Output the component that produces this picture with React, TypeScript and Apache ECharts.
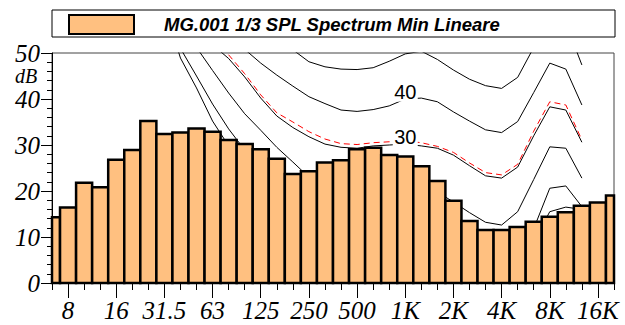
import React, { useEffect, useRef } from 'react';
import * as echarts from 'echarts';

// 1/3 octave bands shown on the x axis (6.3 Hz .. 20 kHz)
const CATEGORIES = ['6.3', '8', '10', '12.5', '16', '20', '25', '31.5', '40', '50', '63', '80', '100', '125', '160', '200', '250', '315', '400', '500', '630', '800', '1K', '1.25K', '1.6K', '2K', '2.5K', '3.15K', '4K', '5K', '6.3K', '8K', '10K', '12.5K', '16K', '20K'];

// Measured spectrum (dB)
const SPECTRUM_NAME = 'MG.001 1/3 SPL Spectrum Min Lineare';
const SPECTRUM_MIN = [14.3, 16.4, 21.8, 20.8, 26.8, 28.9, 35.2, 32.4, 32.7, 33.6, 32.9, 31.1, 30.2, 29.1, 27.0, 23.7, 24.3, 26.2, 26.7, 29.1, 29.4, 27.8, 27.5, 25.4, 22.2, 17.9, 13.5, 11.5, 11.5, 12.2, 13.3, 14.4, 15.4, 16.8, 17.5, 19.0];

// Contours are defined on the bands 20 Hz .. 12.5 kHz
const CONTOUR_BANDS = ['20', '25', '31.5', '40', '50', '63', '80', '100', '125', '160', '200', '250', '315', '400', '500', '630', '800', '1K', '1.25K', '1.6K', '2K', '2.5K', '3.15K', '4K', '5K', '6.3K', '8K', '10K', '12.5K'];
const CONTOUR_0 = [80, 72, 60, 48.9, 42.4, 35.2, 29.8, 25.0, 21.0, 17.5, 14.5, 12.0, 9.8, 8.0, 6.5, 5.5, 5.0, 5.0, 5.2, 4.5, 2.5, 1.0, 0.5, 0.5, 3.0, 9.0, 15.5, 16.5, 16.0];
const CONTOUR_10 = [85, 76, 64, 51, 45, 38.9, 33.5, 28.9, 25.5, 22.5, 19.5, 17, 15, 13.5, 12, 11, 10.2, 10, 10.5, 10, 8.5, 6.5, 4.5, 4, 6.5, 11.8, 20.6, 21.1, 16.6];
const CONTOUR_20 = [90, 80, 70, 58, 51.2, 46.2, 41.3, 36.8, 33.2, 29.5, 26.3, 23, 22, 21, 20.5, 20.2, 20, 20, 20, 19.8, 17.6, 15.3, 13.2, 12.6, 15.5, 22.5, 29.6, 29.3, 22.8];
const CONTOUR_30 = [95, 85, 75, 66, 59, 51.8, 48.8, 44.8, 40.2, 36.3, 33.8, 31.8, 30.2, 29.5, 29.3, 29.8, 30.0, 30.2, 29.8, 29.3, 27.8, 25.5, 23.3, 22.8, 25.2, 32.0, 38.3, 37.6, 30.6];
const CONTOUR_REF = [97, 87, 77, 68, 61, 53.2, 49.6, 45.5, 40.9, 37.0, 35.0, 32.9, 31.3, 30.3, 30.1, 30.5, 30.7, 30.9, 30.5, 29.7, 28.4, 26.1, 24.0, 23.5, 25.8, 33.0, 39.4, 38.7, 31.1];
const CONTOUR_40 = [100, 92, 84, 76, 68, 61, 55, 50.8, 47.8, 45.2, 42.8, 40.5, 39.0, 37.6, 37.3, 37.7, 38.5, 40.0, 40.2, 39.4, 37.2, 35.2, 33.3, 32.7, 35.1, 41.4, 47.8, 46.5, 38.7];
const CONTOUR_50 = [110, 102, 94, 86, 78, 71, 65, 60.5, 56.5, 53.3, 50.7, 48.1, 47.0, 46.5, 46.4, 46.8, 48.2, 49.8, 50.4, 48.6, 46.3, 44.3, 42.9, 42.3, 44.7, 51.2, 57.5, 56.5, 47.4];

// Contour labels (band, dB anchor, text)
const LABEL_BAND = '1K';
const LABEL_40 = { value: 41.6, text: '40' };
const LABEL_30 = { value: 31.8, text: '30' };

const SERIF = '"Liberation Serif", "DejaVu Serif", serif';
const SANS = '"Liberation Sans", Arial, sans-serif';
const BAR_FILL = '#ffc080';

function toAxis(values: number[]): (number | null)[] {
  const start = CATEGORIES.indexOf(CONTOUR_BANDS[0]);
  const out: (number | null)[] = CATEGORIES.map(() => null);
  values.forEach((v, i) => {
    out[start + i] = v;
  });
  return out;
}

function contourLabel(lbl: { value: number; text: string }) {
  return {
    silent: true,
    symbol: 'rect',
    symbolSize: [25, 20],
    itemStyle: { color: '#ffffff' },
    label: {
      show: true,
      position: 'inside',
      formatter: lbl.text,
      color: '#000',
      fontSize: 20,
      fontFamily: SANS,
    },
    data: [{ coord: [LABEL_BAND, lbl.value] }],
  };
}

function lineSeries(name: string, values: number[], extra: any = {}) {
  return {
    name,
    type: 'line',
    data: toAxis(values),
    xAxisIndex: 0,
    yAxisIndex: 0,
    showSymbol: false,
    symbol: 'none',
    silent: true,
    clip: true,
    z: 2,
    lineStyle: { color: '#000', width: 1 },
    itemStyle: { color: '#000' },
    ...extra,
  };
}

function renderBar(params: any, api: any) {
  const idx = api.value(0);
  const val = api.value(1);
  const top = api.coord([idx, val]);
  const base = api.coord([idx, 0]);
  const w = api.size([1, 0])[0];
  const cs = params.coordSys;
  const rect = echarts.graphic.clipRectByRect(
    { x: top[0] - w / 2, y: top[1], width: w, height: base[1] - top[1] },
    { x: cs.x, y: cs.y, width: cs.width, height: cs.height }
  );
  if (!rect) return null;
  return {
    type: 'rect',
    shape: rect,
    style: { fill: BAR_FILL, stroke: '#000', lineWidth: 2.5 },
  };
}

export default function App() {
  const ref = useRef<HTMLDivElement>(null);

  useEffect(() => {
    if (!ref.current) return;
    const chart = echarts.init(ref.current, undefined, { renderer: 'svg' });
    const option: any = {
      animation: false,
      backgroundColor: '#ffffff',
      grid: {
        left: 52,
        right: 11,
        top: 53,
        bottom: 42,
        show: true,
        borderColor: '#444',
        borderWidth: 1,
        backgroundColor: 'transparent',
        containLabel: false,
        outerBoundsMode: 'none',
      },
      legend: {
        show: true,
        left: 68,
        top: 14,
        padding: 0,
        itemWidth: 65,
        itemHeight: 19,
        icon: 'rect',
        selectedMode: false,
        data: [SPECTRUM_NAME],
        itemStyle: { color: BAR_FILL, borderColor: '#000', borderWidth: 2 },
        textStyle: {
          color: '#000',
          fontSize: 18.5,
          fontWeight: 'bold',
          fontStyle: 'italic',
          fontFamily: SANS,
          padding: [0, 0, 0, 25],
        },
        z: 10,
      },
      graphic: [
        {
          type: 'rect',
          silent: true,
          z: 0,
          shape: { x: 52, y: 10, width: 563, height: 27 },
          style: { fill: '#ffffff', stroke: '#000', lineWidth: 1 },
        },
        {
          type: 'text',
          silent: true,
          z: 10,
          x: 26,
          y: 76,
          style: {
            text: 'dB',
            font: 'italic 20px "Liberation Serif", serif',
            fill: '#000',
            align: 'center',
            verticalAlign: 'middle',
          },
        },
      ],
      xAxis: [
        {
          type: 'category',
          data: CATEGORIES,
          boundaryGap: false,
          position: 'bottom',
          axisLine: { show: true, lineStyle: { color: '#000', width: 1 } },
          axisTick: { show: true, interval: 0, length: 7, lineStyle: { color: '#000', width: 1 } },
          axisLabel: {
            show: true,
            interval: (i: number) => i % 3 === 1,
            showMinLabel: true,
            showMaxLabel: true,
            hideOverlap: false,
            margin: 15,
            fontSize: 25,
            fontStyle: 'italic',
            fontFamily: SERIF,
            color: '#000',
          },
          splitLine: { show: false },
        },
        {
          type: 'category',
          data: CATEGORIES,
          boundaryGap: false,
          position: 'bottom',
          axisLine: { show: false },
          axisTick: { show: true, interval: (i: number) => i % 3 === 1, length: 15, lineStyle: { color: '#000', width: 1 } },
          axisLabel: { show: false },
          splitLine: { show: false },
        },
      ],
      yAxis: {
        type: 'value',
        min: 0,
        max: 50,
        interval: 10,
        axisLine: { show: true, lineStyle: { color: '#000', width: 1 } },
        axisTick: { show: true, length: 11, lineStyle: { color: '#000', width: 1 } },
        minorTick: { show: true, splitNumber: 5, length: 5, lineStyle: { color: '#000', width: 1 } },
        axisLabel: {
          margin: 12,
          fontSize: 25,
          fontStyle: 'italic',
          fontFamily: SERIF,
          color: '#000',
        },
        splitLine: { show: false },
        minorSplitLine: { show: false },
      },
      series: [
        lineSeries('0', CONTOUR_0),
        lineSeries('10', CONTOUR_10),
        lineSeries('20', CONTOUR_20),
        lineSeries('30', CONTOUR_30, { markPoint: contourLabel(LABEL_30) }),
        lineSeries('Rif.', CONTOUR_REF, {
          lineStyle: { color: '#ff0000', width: 1, type: [6, 4] },
          itemStyle: { color: '#ff0000' },
        }),
        lineSeries('40', CONTOUR_40, { markPoint: contourLabel(LABEL_40) }),
        lineSeries('50', CONTOUR_50),
        {
          name: SPECTRUM_NAME,
          type: 'custom',
          data: SPECTRUM_MIN.map((v, i) => [i, v]),
          encode: { x: 0, y: 1 },
          xAxisIndex: 0,
          yAxisIndex: 0,
          silent: true,
          z: 3,
          itemStyle: { color: BAR_FILL, borderColor: '#000', borderWidth: 2.5 },
          renderItem: renderBar,
        },
      ],
    };
    chart.setOption(option);
    return () => {
      chart.dispose();
    };
  }, []);

  return (
    <div
      ref={ref}
      style={{ position: 'fixed', left: 0, top: 0, width: 625, height: 325, background: '#fff' }}
    />
  );
}
